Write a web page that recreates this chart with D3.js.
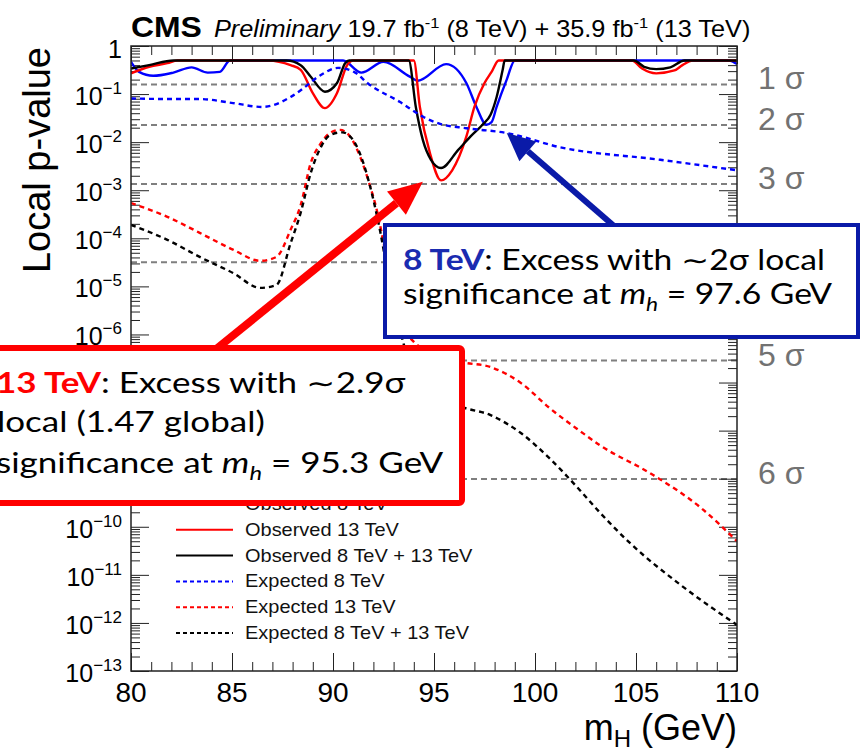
<!DOCTYPE html>
<html>
<head>
<meta charset="utf-8">
<script src="https://cdn.jsdelivr.net/npm/d3@7"></script>
<style>
  body { margin: 0; background: #fff; overflow: hidden; }
  svg { display: block; }
</style>
</head>
<body>
<svg id="chart" width="861" height="750"></svg>
<script>
// ---- values ----
var massTicks = [80, 85, 90, 95, 100, 105, 110];
var decadeExps = [0, -1, -2, -3, -4, -5, -6, -7, -8, -9, -10, -11, -12, -13];

// observed (capped at 0.5 like the original)
var massObs8 = [80.0, 80.4, 81.1, 82.1, 83.0, 83.8, 84.4, 84.9, 90.5, 91.4, 92.5, 93.8, 94.2, 95.6, 96.6, 97.1, 97.6, 97.85, 98.1, 98.6, 99.0, 109.6, 110.0];
var pObs8    = [0.47, 0.29, 0.24, 0.28, 0.36, 0.28, 0.29, 0.5, 0.5, 0.28, 0.47, 0.23, 0.19, 0.42, 0.17, 0.054, 0.023, 0.026, 0.054, 0.2, 0.5, 0.5, 0.42];

var massObs13 = [80.0, 80.9, 81.8, 82.3, 86.8, 87.9, 88.4, 89.0, 89.6, 90.2, 90.7, 91.0, 94.0, 94.3, 94.8, 95.35, 95.9, 96.6, 97.0, 97.5, 97.85, 98.2, 104.8, 105.3, 106.0, 106.9, 107.3, 107.8, 110.0];
var pObs13    = [0.27, 0.37, 0.44, 0.5, 0.5, 0.40, 0.32, 0.105, 0.051, 0.105, 0.40, 0.5, 0.5, 0.054, 5.9e-3, 1.6e-3, 2.6e-3, 0.013, 0.054, 0.17, 0.29, 0.5, 0.5, 0.34, 0.27, 0.31, 0.40, 0.5, 0.5];

var massObsComb = [80.0, 80.9, 82.1, 87.7, 88.4, 88.9, 89.6, 90.2, 90.6, 90.8, 93.75, 94.1, 94.45, 94.85, 95.35, 96.2, 96.8, 97.4, 97.8, 98.1, 98.4, 98.5, 104.9, 105.4, 106.0, 106.7, 107.4, 110.0];
var pObsComb    = [0.34, 0.40, 0.5, 0.5, 0.40, 0.23, 0.112, 0.17, 0.44, 0.5, 0.5, 0.054, 0.011, 4.3e-3, 2.9e-3, 6.9e-3, 0.013, 0.023, 0.037, 0.087, 0.32, 0.5, 0.5, 0.37, 0.33, 0.36, 0.5, 0.5];

// expected
var massExp8 = [80.0, 81.8, 83.4, 85.05, 86.5, 87.9, 88.4, 89.4, 90.25, 91.1, 91.7, 93.3, 94.5, 95.3, 96.6, 98.6, 101.2, 106.2, 110.0];
var pExp8    = [0.081, 0.079, 0.079, 0.065, 0.054, 0.087, 0.12, 0.25, 0.35, 0.28, 0.17, 0.069, 0.033, 0.024, 0.0195, 0.0155, 7.9e-3, 4.3e-3, 2.6e-3];

var massExp13 = [80.0, 81.8, 83.4, 85.05, 86.4, 87.2, 87.9, 88.4, 88.9, 89.4, 89.85, 90.35, 90.85, 91.35, 91.75, 92.2, 92.6, 93.1, 93.5, 94.0, 95.0, 96.3, 97.8, 99.3, 100.7, 102.2, 103.2, 105.7, 108.2, 110.0];
var pExp13    = [5.4e-4, 2.8e-4, 1.3e-4, 5.8e-5, 3.4e-5, 4.1e-5, 1.5e-4, 4.9e-4, 3.7e-3, 9.5e-3, 1.55e-2, 1.8e-2, 1.3e-2, 4.9e-3, 1.6e-3, 3.4e-4, 5e-5, 5e-6, 1.4e-6, 7e-7, 4.2e-7, 2.7e-7, 2.1e-7, 9.8e-8, 3.0e-8, 1.0e-8, 5.0e-9, 1.3e-9, 2.5e-10, 5.0e-11];

var massExpComb = [80.0, 81.8, 83.4, 85.05, 86.4, 87.2, 87.9, 88.4, 88.9, 89.4, 89.85, 90.45, 91.0, 91.5, 92.0, 92.35, 92.7, 93.1, 93.5, 94.0, 95.0, 96.3, 97.8, 99.3, 100.7, 102.2, 103.2, 104.7, 107.2, 110.0];
var pExpComb    = [1.9e-4, 9.3e-5, 4.1e-5, 1.9e-5, 9.3e-6, 1.07e-5, 7.9e-5, 3.4e-4, 2.3e-3, 7.9e-3, 1.4e-2, 1.6e-2, 1.1e-2, 3.7e-3, 6.3e-4, 1.3e-4, 2.0e-5, 3.2e-6, 6.3e-7, 2.0e-7, 6.3e-8, 3.2e-8, 2.1e-8, 8.9e-9, 2.7e-9, 5.9e-10, 2.0e-10, 4.6e-11, 6.2e-12, 9.1e-13];

// significance reference lines
var sigmaP      = [0.1587, 0.02275, 1.350e-3, 3.167e-5, 2.867e-7, 9.866e-10];
var sigmaLabels = ["1 σ", "2 σ", "3 σ", "4 σ", "5 σ", "6 σ"];

var legendLabels = ["Observed 8 TeV", "Observed 13 TeV", "Observed 8 TeV + 13 TeV", "Expected 8 TeV", "Expected 13 TeV", "Expected 8 TeV + 13 TeV"];

// ---- layout ----
var svg = d3.select("#chart");
var plotL = 131, plotR = 737, plotT = 46, plotB = 671;
var ROOTFONT = "'Liberation Sans', Arial, Helvetica, sans-serif";
var SLIDEFONT = "Lato, 'Open Sans', sans-serif";

var x = d3.scaleLinear().domain([80, 110]).range([plotL, plotR]);
var y = d3.scaleLog().domain([1e-13, 1]).range([plotB, plotT]);

var series = [
  { m: massObs8,    p: pObs8,    color: "#0000ff", dash: null },
  { m: massObs13,   p: pObs13,   color: "#ff0000", dash: null },
  { m: massObsComb, p: pObsComb, color: "#000000", dash: null },
  { m: massExp8,    p: pExp8,    color: "#0000ff", dash: "5,4" },
  { m: massExp13,   p: pExp13,   color: "#ff0000", dash: "5,4" },
  { m: massExpComb, p: pExpComb, color: "#000000", dash: "5,4" }
];

// minor tick positions
var minorY = [];
decadeExps.slice(1).forEach(function (e) {
  for (var k = 2; k <= 9; k++) minorY.push(k * Math.pow(10, e));
});
var majorY = decadeExps.map(function (e) { return Math.pow(10, e); });
var minorX = d3.range(80, 111, 1);

function tickAxis(axis, tx, ty, size, values) {
  var g = svg.append("g").attr("transform", "translate(" + tx + "," + ty + ")")
    .call(axis.tickValues(values).tickSize(size).tickSizeOuter(0).tickFormat(""));
  g.select(".domain").remove();
  g.selectAll("line").attr("stroke", "#222").attr("stroke-width", 1);
}

// text placed at (px,py), stretched horizontally by sx (the slide was widened)
function stretchedText(px, py, sx, size, family) {
  return svg.append("text")
    .attr("transform", "translate(" + px + "," + py + ") scale(" + sx + ",1)")
    .attr("font-family", family).attr("font-size", size);
}

svg.append("clipPath").attr("id", "plotclip")
  .append("rect").attr("x", plotL).attr("y", plotT).attr("width", plotR - plotL).attr("height", plotB - plotT);

// sigma lines
svg.append("g").selectAll("line").data(sigmaP).join("line")
  .attr("x1", plotL).attr("x2", plotR)
  .attr("y1", function (d) { return y(d); }).attr("y2", function (d) { return y(d); })
  .attr("stroke", "#7f7f7f").attr("stroke-width", 2).attr("stroke-dasharray", "6,4");

// ticks (ROOT style, inside)
tickAxis(d3.axisLeft(y), plotL, 0, -18, majorY);
tickAxis(d3.axisLeft(y), plotL, 0, -9, minorY);
tickAxis(d3.axisRight(y), plotR, 0, -18, majorY);
tickAxis(d3.axisRight(y), plotR, 0, -9, minorY);
tickAxis(d3.axisBottom(x), 0, plotB, -18, massTicks);
tickAxis(d3.axisBottom(x), 0, plotB, -9, minorX);
tickAxis(d3.axisTop(x), 0, plotT, -18, massTicks);
tickAxis(d3.axisTop(x), 0, plotT, -9, minorX);

// curves
var line = d3.line()
  .x(function (d) { return x(d[0]); })
  .y(function (d) { return y(d[1]); })
  .curve(d3.curveMonotoneX);

svg.append("g").attr("clip-path", "url(#plotclip)")
  .selectAll("path").data(series).join("path")
  .attr("d", function (s) { return line(s.m.map(function (m, i) { return [m, s.p[i]]; })); })
  .attr("fill", "none")
  .attr("stroke", function (s) { return s.color; })
  .attr("stroke-width", 2.4)
  .attr("stroke-dasharray", function (s) { return s.dash; });

// frame
svg.append("rect").attr("x", plotL).attr("y", plotT).attr("width", plotR - plotL).attr("height", plotB - plotT)
  .attr("fill", "none").attr("stroke", "#222").attr("stroke-width", 1.5);

// y tick labels
var yl = svg.append("g").attr("font-family", ROOTFONT).attr("fill", "#000");
decadeExps.forEach(function (e) {
  var t = yl.append("text").attr("text-anchor", "end").attr("x", 122)
    .attr("y", y(Math.pow(10, e)) + (e === 0 ? 12 : 11)).attr("font-size", 25);
  if (e === 0) { t.text("1"); return; }
  t.append("tspan").text("10");
  t.append("tspan").attr("font-size", 17).attr("dy", -11).text("\u2212" + (-e));
});

// x tick labels
svg.append("g").selectAll("text").data(massTicks).join("text")
  .attr("x", function (d) { return x(d); }).attr("y", 702)
  .attr("text-anchor", "middle").attr("font-family", ROOTFONT).attr("font-size", 28)
  .text(function (d) { return d; });

// axis titles
svg.append("text").attr("transform", "translate(50,47) rotate(-90)")
  .attr("text-anchor", "end").attr("font-family", ROOTFONT).attr("font-size", 38)
  .text("Local p-value");

var xt = svg.append("text").attr("x", plotR).attr("y", 740).attr("text-anchor", "end")
  .attr("font-family", ROOTFONT).attr("font-size", 36);
xt.append("tspan").text("m");
xt.append("tspan").attr("font-size", 24).attr("dy", 7).text("H");
xt.append("tspan").attr("dy", -7).text(" (GeV)");

// title
var tt = stretchedText(131, 37, 1.1, 23, ROOTFONT);
tt.append("tspan").attr("font-weight", "bold").attr("font-size", 29).text("CMS");
tt.append("tspan").attr("font-style", "italic").attr("dx", 11).text("Preliminary");
tt.append("tspan").text(" 19.7 fb");
tt.append("tspan").attr("font-size", 15).attr("dy", -9).text("-1");
tt.append("tspan").attr("dy", 9).text(" (8 TeV) + 35.9 fb");
tt.append("tspan").attr("font-size", 15).attr("dy", -9).text("-1");
tt.append("tspan").attr("dy", 9).text(" (13 TeV)");

// sigma labels (4 sigma sits behind the note)
svg.append("g").selectAll("text").data(sigmaP).join("text")
  .attr("x", 758).attr("y", function (d) { return y(d) + 5; })
  .attr("font-family", ROOTFONT).attr("font-size", 32).attr("fill", "#727272")
  .text(function (d, i) { return sigmaLabels[i]; });

// legend
series.forEach(function (s, i) {
  var ly = 504 + i * 25.8;
  svg.append("line").attr("x1", 176).attr("x2", 233).attr("y1", ly).attr("y2", ly)
    .attr("stroke", s.color).attr("stroke-width", 2).attr("stroke-dasharray", s.dash ? "4,3" : null);
  stretchedText(245, ly + 6, 1.11, 18, ROOTFONT).attr("fill", "#111").text(legendLabels[i]);
});

// ---- slide annotations ----
function arrow(x0, y0, x1, y1, color, w, headLen, headW) {
  var a = Math.atan2(y1 - y0, x1 - x0);
  var bx = x1 - headLen * Math.cos(a), by = y1 - headLen * Math.sin(a);
  var nx = -Math.sin(a) * headW / 2, ny = Math.cos(a) * headW / 2;
  svg.append("line").attr("x1", x0).attr("y1", y0).attr("x2", bx).attr("y2", by)
    .attr("stroke", color).attr("stroke-width", w);
  svg.append("polygon")
    .attr("points", [[x1, y1], [bx + nx, by + ny], [bx - nx, by - ny]].map(function (p) { return p.join(","); }).join(" "))
    .attr("fill", color);
}

var redTip = [94.45, 1.5e-3], blueTip = [98.6, 1.55e-2];
arrow(215, 350, x(redTip[0]), y(redTip[1]), "#ff0000", 8, 34, 30);
arrow(614, 226, x(blueTip[0]), y(blueTip[1]), "#0a1aa8", 6, 28, 26);

// blue note
svg.append("rect").attr("x", 385).attr("y", 225).attr("width", 473).attr("height", 112)
  .attr("fill", "#fff").attr("stroke", "#0a1aa8").attr("stroke-width", 4);
var b1 = stretchedText(403, 270, 1.2, 28, SLIDEFONT);
b1.append("tspan").attr("font-weight", "bold").attr("fill", "#1a2bb0").text("8 TeV");
b1.append("tspan").text(": Excess with \u223C2σ local");
var b2 = stretchedText(403, 304, 1.2, 28, SLIDEFONT);
b2.append("tspan").text("significance at ");
b2.append("tspan").attr("font-style", "italic").text("m");
b2.append("tspan").attr("font-style", "italic").attr("font-size", 19).attr("dy", 7).text("h");
b2.append("tspan").attr("dy", -7).text(" = 97.6 GeV");

// red note
svg.append("rect").attr("x", -20).attr("y", 348).attr("width", 482).attr("height", 155).attr("rx", 3)
  .attr("fill", "#fff").attr("stroke", "#ff0000").attr("stroke-width", 6);
var r1 = stretchedText(-4, 393, 1.25, 28, SLIDEFONT);
r1.append("tspan").attr("font-weight", "bold").attr("fill", "#ff0000").text("13 TeV");
r1.append("tspan").text(": Excess with \u223C2.9σ");
stretchedText(-3, 432, 1.25, 28, SLIDEFONT).text("local (1.47 global)");
var r3 = stretchedText(-4, 473, 1.25, 28, SLIDEFONT);
r3.append("tspan").text("significance at ");
r3.append("tspan").attr("font-style", "italic").text("m");
r3.append("tspan").attr("font-style", "italic").attr("font-size", 19).attr("dy", 7).text("h");
r3.append("tspan").attr("dy", -7).text(" = 95.3 GeV");
</script>
</body>
</html>
